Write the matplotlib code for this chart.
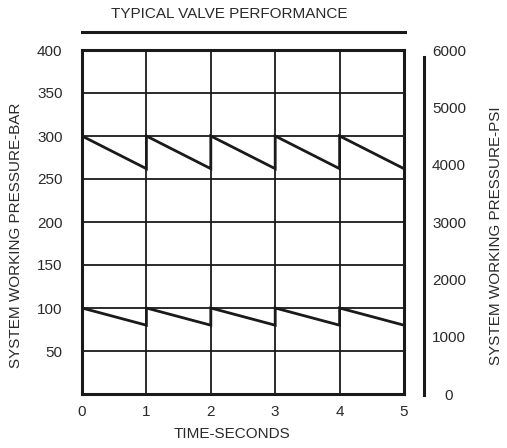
import matplotlib
matplotlib.use('Agg')
import matplotlib.pyplot as plt

plt.rcParams['font.family'] = ['Liberation Sans', 'DejaVu Sans']

# data
seconds = [0, 1, 2, 3, 4, 5]
bar_ticks = [50, 100, 150, 200, 250, 300, 350, 400]
psi_ticks = [0, 1000, 2000, 3000, 4000, 5000, 6000]
high_peak = [300, 300, 300, 300, 300]
high_drop = [262, 262, 262, 262, 262]
low_peak = [100, 100, 100, 100, 100]
low_drop = [80, 80, 80, 80, 80]

ink = '#1a1a1a'
txt = '#2a2a2a'
fs = 11


def sawtooth(peaks, drops):
    xs, ys = [], []
    for i in range(len(peaks)):
        xs += [seconds[i], seconds[i + 1]]
        ys += [peaks[i], drops[i]]
    return xs, ys


fig = plt.figure(figsize=(5.07, 4.48), dpi=100)
ax = fig.add_axes([82 / 507, 54 / 448, 322 / 507, 344 / 448])
ax.set_xlim(0, 5)
ax.set_ylim(0, 400)

ax.set_xticks(seconds)
ax.set_yticks(bar_ticks)
ax.grid(True, color=ink, linewidth=1.3)
ax.tick_params(length=0, labelsize=fs, labelcolor=txt)
ax.tick_params(axis='y', pad=14)
ax.tick_params(axis='x', pad=8)
for s in ax.spines.values():
    s.set_linewidth(2.2)
    s.set_color(ink)

for peaks, drops in [(high_peak, high_drop), (low_peak, low_drop)]:
    xs, ys = sawtooth(peaks, drops)
    ax.plot(xs, ys, color=ink, linewidth=2, solid_joinstyle='miter')

ax.set_ylabel('SYSTEM WORKING PRESSURE-BAR', fontsize=fs, color=txt)
ax.yaxis.set_label_coords(-0.183, 0.46)
ax.set_xlabel('TIME-SECONDS', fontsize=fs, color=txt)
ax.xaxis.set_label_coords(0.466, -0.097)

# psi scale on a separate line at the right
ax2 = ax.twinx()
ax2.set_ylim(0, 6000)
ax2.set_yticks(psi_ticks)
for name in ['top', 'bottom', 'left']:
    ax2.spines[name].set_visible(False)
ax2.spines['right'].set_position(('outward', 14.4))
ax2.spines['right'].set_bounds(-20, 5880)
ax2.spines['right'].set_linewidth(2.2)
ax2.spines['right'].set_color(ink)
ax2.tick_params(length=0, labelsize=fs, labelcolor=txt, pad=18)
for lab in ax2.get_yticklabels():
    lab.set_ha('center')
ax2.set_ylabel('SYSTEM WORKING PRESSURE-PSI', fontsize=fs, color=txt)
ax2.yaxis.set_label_coords(1.265, 0.46)

# title with rule underneath
ax.plot([0, 1.003], [1.052, 1.052], transform=ax.transAxes, clip_on=False,
        color=ink, linewidth=2.2)
fig.text(229 / 507, 1 - 14 / 448, 'TYPICAL VALVE PERFORMANCE', ha='center',
         va='center', fontsize=fs, color=txt)

fig.savefig('out.png', dpi=100)
